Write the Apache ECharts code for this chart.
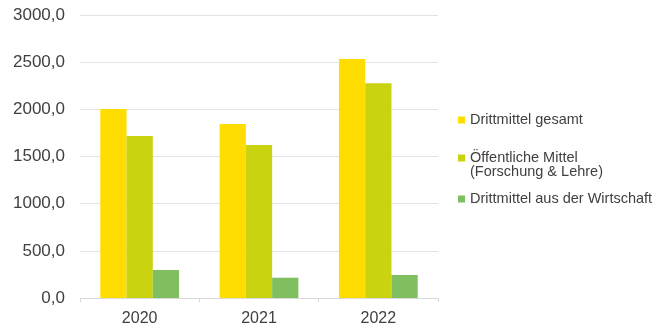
<!DOCTYPE html>
<html><head><meta charset="utf-8">
<script src="https://cdn.jsdelivr.net/npm/echarts@6/dist/echarts.min.js"></script>
<style>html,body{margin:0;padding:0;background:#fff}#c{width:656px;height:328px}</style>
</head><body><div id="c"></div>
<script>
var categories = ['2020', '2021', '2022'];
var seriesNames = ['Drittmittel gesamt', 'Öffentliche Mittel\n(Forschung & Lehre)', 'Drittmittel aus der Wirtschaft'];
var gesamt = [2003, 1845, 2534];
var oeffentlich = [1717, 1622, 2276];
var wirtschaft = [297, 215, 244];
var yTicks = [0, 500, 1000, 1500, 2000, 2500, 3000];

var colors = ['#FFDD00', '#C9D30F', '#80BF5F'];
var font = 'Liberation Sans, Arial, sans-serif';
var chart = echarts.init(document.getElementById('c'), null, {renderer: 'canvas'});
function legendAt(name, top, fmt) {
  return {
    data: [name], left: 458, top: top, orient: 'vertical',
    itemWidth: 7, itemHeight: 7, icon: 'rect', padding: 0,
    selectedMode: false,
    formatter: fmt || function (n) { return n; },
    textStyle: {fontFamily: font, fontSize: 14.5, color: '#404040', lineHeight: 16}
  };
}
chart.setOption({
  animation: false,
  color: colors,
  grid: {left: 80, right: 218, top: 15, bottom: 30, containLabel: false},
  legend: [
    legendAt(seriesNames[0], 112),
    legendAt(seriesNames[1], 150, function (n) { return n.split('\n')[0]; }),
    legendAt(seriesNames[2], 191)
  ],
  graphic: [{
    type: 'text', left: 470, top: 164,
    style: {text: seriesNames[1].split('\n')[1], font: '14.5px ' + font, fill: '#404040'}
  }],
  xAxis: {
    type: 'category', data: categories,
    axisLine: {lineStyle: {color: '#d9d9d9', width: 1}},
    axisTick: {show: true, length: 4, lineStyle: {color: '#d9d9d9'}},
    axisLabel: {fontFamily: font, fontSize: 16, color: '#404040', margin: 13}
  },
  yAxis: {
    type: 'value', min: yTicks[0], max: yTicks[yTicks.length - 1], interval: 500,
    axisLine: {show: false}, axisTick: {show: false},
    splitLine: {lineStyle: {color: '#e3e3e3', width: 1}},
    axisLabel: {fontFamily: font, fontSize: 17, color: '#404040', margin: 15,
      formatter: function (v) { return v.toFixed(1).replace('.', ','); }}
  },
  series: [
    {name: seriesNames[0], type: 'bar', data: gesamt, barGap: '0%', barCategoryGap: '34%'},
    {name: seriesNames[1], type: 'bar', data: oeffentlich, barGap: '0%', barCategoryGap: '34%'},
    {name: seriesNames[2], type: 'bar', data: wirtschaft, barGap: '0%', barCategoryGap: '34%'}
  ]
});
</script></body></html>
